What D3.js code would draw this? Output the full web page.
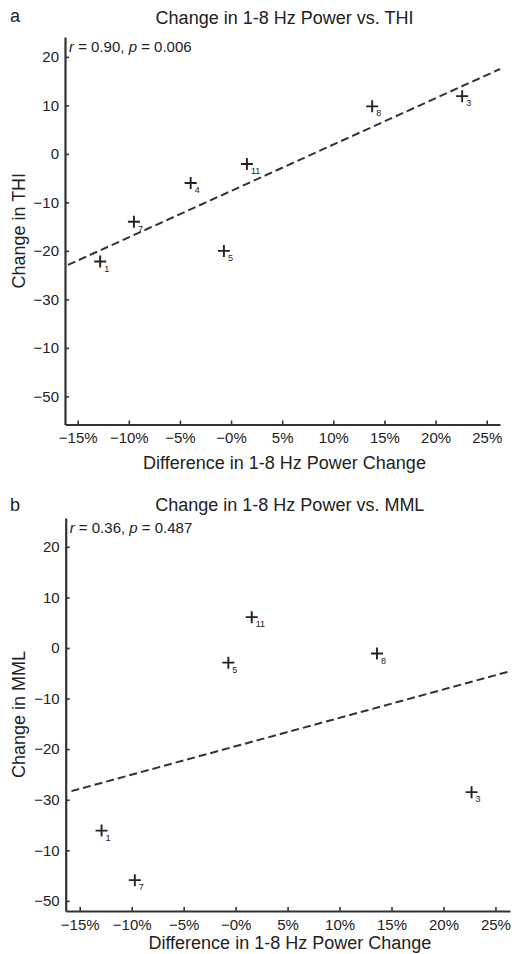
<!DOCTYPE html>
<html><head><meta charset="utf-8">
<script src="https://cdn.jsdelivr.net/npm/d3@7"></script>
<style>
html,body{margin:0;padding:0;background:#fff;}
svg{display:block;font-family:"Liberation Sans",Arial,Helvetica,sans-serif;}
</style></head>
<body>
<svg id="chart" width="516" height="954"></svg>
<script>
// ---- data ----
const xTickValues = [-15, -10, -5, 0, 5, 10, 15, 20, 25];
const xTickLabels = ["\u221215%", "\u221210%", "\u22125%", "\u22120%", "5%", "10%", "15%", "20%", "25%"];
const yTickValues = [20, 10, 0, -10, -20, -30, -40, -50];
const yTickLabels = ["20", "10", "0", "\u221210", "\u221220", "\u221230", "\u221210", "\u221250"];

// panel a: Change in THI
const aSubjects = ["1", "7", "4", "11", "5", "8", "3"];
const aPower    = [-12.8, -9.5, -3.95, 1.55, -0.7, 13.8, 22.6];
const aTHI      = [-22.2, -14.0, -6.0, -2.1, -20.0, 9.8, 11.9];
const aFitX     = [-15.95, 26.3];
const aFitY     = [-22.9, 17.5];

// panel b: Change in MML
const bSubjects = ["1", "7", "5", "11", "8", "3"];
const bPower    = [-12.9, -9.7, -0.7, 1.55, 13.6, 22.7];
const bMML      = [-36.1, -45.9, -2.9, 6.1, -1.1, -28.5];
const bFitX     = [-15.8, 26.4];
const bFitY     = [-28.3, -4.6];

const panels = [
  {letter: "a", title: "Change in 1-8 Hz Power vs. THI", ylabel: "Change in THI",
   stat: ["0.90", "0.006"], names: aSubjects, xs: aPower, ys: aTHI, fx: aFitX, fy: aFitY,
   xRange: [65, 500], yRange: [424.5, 37], xDom: [-16.24, 26.3], yDom: [-55.8, 24.1],
   titleY: 24, letterY: 22, xTitleGap: 44},
  {letter: "b", title: "Change in 1-8 Hz Power vs. MML", ylabel: "Change in MML",
   stat: ["0.36", "0.487"], names: bSubjects, xs: bPower, ys: bMML, fx: bFitX, fy: bFitY,
   xRange: [65.7, 510], yRange: [911, 518], xDom: [-16.35, 26.4], yDom: [-52.0, 25.7],
   titleY: 511, letterY: 511, xTitleGap: 38}
];

const svg = d3.select("#chart");
const ink = "#222";
const axisInk = "#333";

panels.forEach(p => {
  const x = d3.scaleLinear().domain(p.xDom).range(p.xRange);
  const y = d3.scaleLinear().domain(p.yDom).range(p.yRange);
  const g = svg.append("g");
  const x0 = p.xRange[0], x1 = p.xRange[1], yb = p.yRange[0], yt = p.yRange[1];

  // panel letter and title
  g.append("text").attr("x", 10).attr("y", p.letterY).attr("font-size", 18).attr("fill", ink).text(p.letter);
  g.append("text").attr("x", (x0 + x1) / 2 + 2).attr("y", p.titleY).attr("text-anchor", "middle")
    .attr("font-size", 18).attr("fill", ink).text(p.title);

  // axes
  const xAxis = d3.axisBottom(x).tickValues(xTickValues)
    .tickFormat((d, i) => xTickLabels[i]).tickSizeInner(-4).tickSizeOuter(0).tickPadding(8);
  const yAxis = d3.axisLeft(y).tickValues(yTickValues)
    .tickFormat((d, i) => yTickLabels[i]).tickSizeInner(-4).tickSizeOuter(0).tickPadding(6);

  const gx = g.append("g").attr("transform", `translate(0,${yb})`).call(xAxis);
  const gy = g.append("g").attr("transform", `translate(${x0},0)`).call(yAxis);
  [gx, gy].forEach(a => {
    a.select(".domain").attr("stroke", axisInk).attr("stroke-width", 2.2);
    a.selectAll(".tick line").attr("stroke", axisInk).attr("stroke-width", 1.6);
    a.selectAll(".tick text").attr("fill", ink).attr("font-size", 15)
      .attr("font-family", "'Liberation Sans',Arial,sans-serif");
  });

  // axis titles
  g.append("text").attr("x", (x0 + x1) / 2 + 2).attr("y", yb + p.xTitleGap).attr("text-anchor", "middle")
    .attr("font-size", 18).attr("fill", ink).text("Difference in 1-8 Hz Power Change");
  g.append("text").attr("transform", `translate(25,${(yb + yt) / 2}) rotate(-90)`)
    .attr("text-anchor", "middle").attr("font-size", 18).attr("fill", ink).text(p.ylabel);

  // stat text
  const st = g.append("text").attr("x", x0 + 4).attr("y", yt + 15).attr("font-size", 15).attr("fill", ink);
  st.append("tspan").attr("font-style", "italic").text("r");
  st.append("tspan").text(` = ${p.stat[0]}, `);
  st.append("tspan").attr("font-style", "italic").text("p");
  st.append("tspan").text(` = ${p.stat[1]}`);

  // regression line
  const fit = p.fx.map((v, i) => [v, p.fy[i]]);
  g.append("path").datum(fit)
    .attr("d", d3.line().x(d => x(d[0])).y(d => y(d[1])))
    .attr("fill", "none").attr("stroke", axisInk).attr("stroke-width", 2)
    .attr("stroke-dasharray", "8,4");

  // points
  const pts = p.xs.map((v, i) => ({x: v, y: p.ys[i], n: p.names[i]}));
  const m = g.selectAll(".pt").data(pts).enter().append("g")
    .attr("transform", d => `translate(${x(d.x)},${y(d.y)})`);
  m.append("path").attr("d", "M-6,0H6M0,-6V6").attr("stroke", ink).attr("stroke-width", 1.9);
  m.append("text").attr("x", 4).attr("y", 10).attr("font-size", 9).attr("fill", ink).text(d => d.n);
});
</script>
</body></html>
